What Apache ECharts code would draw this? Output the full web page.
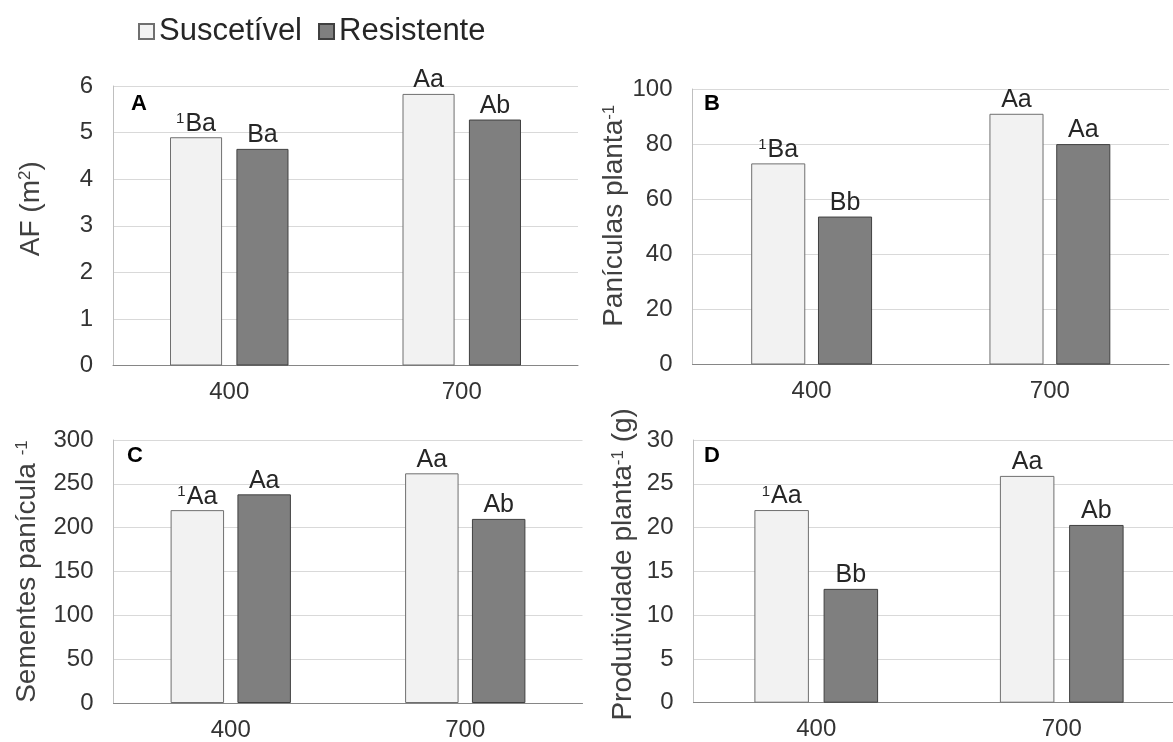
<!DOCTYPE html>
<html>
<head>
<meta charset="utf-8">
<script src="https://cdn.jsdelivr.net/npm/echarts@6/dist/echarts.min.js"></script>
<style>
html,body{margin:0;padding:0;background:#fff;overflow:hidden;width:1173px;height:742px;}
#chart{width:1200px;height:742px;}
</style>
</head>
<body>
<div id="chart"></div>
<script>
// ---- data ----
const categories = ['400', '700'];
const seriesNames = ['Suscetível', 'Resistente'];

const suscA = [4.9, 5.83];
const resA  = [4.65, 5.28];
const labSuscA = ['{sup|1}Ba', 'Aa'];
const labResA  = ['Ba', 'Ab'];

const suscB = [73, 91];
const resB  = [53.7, 80];
const labSuscB = ['{sup|1}Ba', 'Aa'];
const labResB  = ['Bb', 'Aa'];

const suscC = [220, 262];
const resC  = [238, 210];
const labSuscC = ['{sup|1}Aa', 'Aa'];
const labResC  = ['Aa', 'Ab'];

const suscD = [22, 25.9];
const resD  = [13, 20.3];
const labSuscD = ['{sup|1}Aa', 'Aa'];
const labResD  = ['Bb', 'Ab'];

const yMaxes = [6, 100, 300, 30];
const yIntervals = [1, 20, 50, 5];
const yNames = ['AF (m{sup|2})', 'Panículas planta{sup|-1}', 'Sementes panícula {sup|-1}', 'Produtividade planta{sup|-1} (g)'];
const panelLetters = ['A', 'B', 'C', 'D'];

// ---- layout ----
const FONT = "'Liberation Sans', Arial, sans-serif";
const grids = [
  {left: 113, top: 86, width: 465, height: 279.5},
  {left: 692.5, top: 89, width: 476.5, height: 275.5},
  {left: 113.5, top: 440, width: 469, height: 264},
  {left: 693.5, top: 440, width: 491, height: 262.7}
];
const nameGaps = [68, 62, 72, 56];
const namePads = [[0, 0, 0, 34], [0, 0, 0, 22], [0, 0, 0, 0], [0, 0, 0, 14]];
const barWidths = ['22.4%', '22.7%', '22.8%', '22.2%'];
const barGaps = ['27.5%', '23.5%', '25%', '27%'];
const letterPos = [[131, 93], [704, 93], [127, 445], [704, 445]];

const susc = [suscA, suscB, suscC, suscD];
const res = [resA, resB, resC, resD];
const labS = [labSuscA, labSuscB, labSuscC, labSuscD];
const labR = [labResA, labResB, labResC, labResD];

const labelRich = {sup: {fontSize: 15, verticalAlign: 'top', fontFamily: FONT, color: '#262626', padding: [0, 1, 0, 0]}};

const xAxes = [], yAxes = [], series = [], graphics = [];
for (let i = 0; i < 4; i++) {
  xAxes.push({
    type: 'category', gridIndex: i, data: categories,
    axisTick: {show: false},
    axisLine: {lineStyle: {color: '#868686', width: 1}},
    axisLabel: {fontSize: 24, color: '#333', margin: 15, fontFamily: FONT}
  });
  yAxes.push({
    type: 'value', gridIndex: i, min: 0, max: yMaxes[i], interval: yIntervals[i],
    axisLine: {show: true, lineStyle: {color: '#bfbfbf'}},
    axisTick: {show: false},
    splitLine: {lineStyle: {color: '#d9d9d9', width: 1}},
    axisLabel: {fontSize: 24, color: '#333', margin: 20, fontFamily: FONT},
    name: yNames[i], nameLocation: 'middle', nameGap: nameGaps[i], nameRotate: 90,
    nameTextStyle: {fontSize: 28, color: '#404040', fontFamily: FONT, padding: namePads[i],
      rich: {sup: {fontSize: 17, verticalAlign: 'top', color: '#404040', fontFamily: FONT}}}
  });
  const ls = labS[i], lr = labR[i];
  series.push({
    name: seriesNames[0], type: 'bar', xAxisIndex: i, yAxisIndex: i, data: susc[i],
    barWidth: barWidths[i], barGap: barGaps[i],
    itemStyle: {color: '#f2f2f2', borderColor: '#6f6f6f', borderWidth: 1},
    label: {show: true, position: 'top', distance: 1, fontSize: 25, color: '#262626', fontFamily: FONT,
      formatter: p => ls[p.dataIndex], rich: labelRich}
  });
  series.push({
    name: seriesNames[1], type: 'bar', xAxisIndex: i, yAxisIndex: i, data: res[i],
    barWidth: barWidths[i], barGap: barGaps[i],
    itemStyle: {color: '#7f7f7f', borderColor: '#404040', borderWidth: 1},
    label: {show: true, position: 'top', distance: 1, fontSize: 25, color: '#262626', fontFamily: FONT,
      formatter: p => lr[p.dataIndex], rich: labelRich}
  });
  graphics.push({
    type: 'text', left: letterPos[i][0], top: letterPos[i][1], z: 100,
    style: {text: panelLetters[i], font: 'bold 22px ' + FONT, fill: '#000'}
  });
}

const chart = echarts.init(document.getElementById('chart'), null, {renderer: 'canvas'});
chart.setOption({
  backgroundColor: '#fff',
  animation: false,
  legend: {
    data: seriesNames, left: 138, top: 16, padding: 0, icon: 'rect',
    itemWidth: 15, itemHeight: 15, itemGap: 16,
    textStyle: {fontSize: 31, color: '#262626', fontFamily: FONT}
  },
  grid: grids,
  xAxis: xAxes,
  yAxis: yAxes,
  series: series,
  graphic: graphics
});
</script>
</body>
</html>
